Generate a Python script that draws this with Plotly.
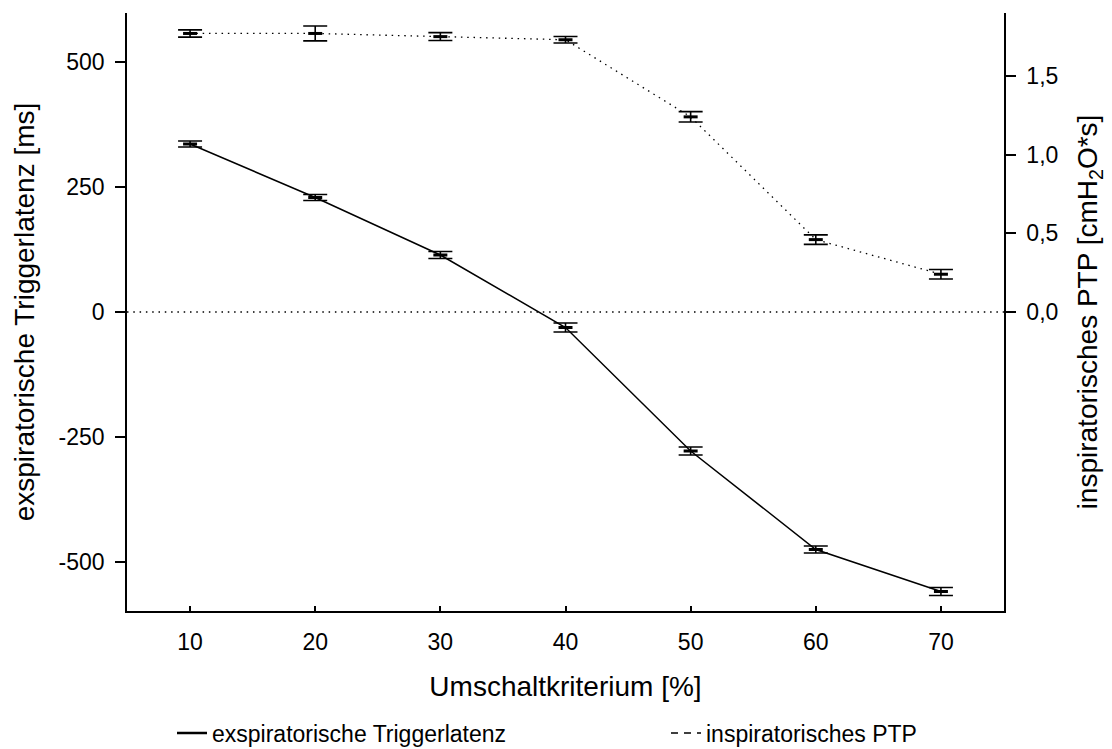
import plotly.graph_objects as go

# Switching criterion (%) on the x axis
umschaltkriterium = [10, 20, 30, 40, 50, 60, 70]

# Expiratory trigger latency (ms), mean and error
triggerlatenz = [336, 229, 114, -31, -278, -475, -559]
triggerlatenz_err = [6, 6, 7, 9, 8, 7, 8]

# Inspiratory pressure-time product (cmH2O*s), mean and error
ptp = [1.77, 1.77, 1.75, 1.73, 1.24, 0.46, 0.24]
ptp_err = [0.023, 0.047, 0.025, 0.021, 0.033, 0.03, 0.03]

left_ticks = [-500, -250, 0, 250, 500]
left_ticktext = ["-500", "-250", "0", "250", "500"]
right_ticks = [0.0, 0.5, 1.0, 1.5]
right_ticktext = ["0,0", "0,5", "1,0", "1,5"]
x_ticks = [10, 20, 30, 40, 50, 60, 70]

FONT = "Liberation Sans, Arial, sans-serif"
FS = 23
DOT = "1.5px,4.8px"

fig = go.Figure()

fig.add_trace(go.Scatter(
    x=umschaltkriterium, y=triggerlatenz,
    mode="lines+markers",
    line=dict(color="black", width=1.5),
    marker=dict(symbol="line-ew", size=10, color="black",
                line=dict(color="black", width=3)),
    error_y=dict(type="data", array=triggerlatenz_err, visible=True,
                 color="black", thickness=1.6, width=12),
    showlegend=False,
    yaxis="y",
))

fig.add_trace(go.Scatter(
    x=umschaltkriterium, y=ptp,
    mode="lines+markers",
    line=dict(color="black", width=1.3, dash=DOT),
    marker=dict(symbol="line-ew", size=10, color="black",
                line=dict(color="black", width=3)),
    error_y=dict(type="data", array=ptp_err, visible=True,
                 color="black", thickness=1.6, width=12),
    showlegend=False,
    yaxis="y2",
))

# Legend entries, one legend box each
fig.add_trace(go.Scatter(
    x=[None], y=[None], mode="lines",
    line=dict(color="black", width=2.5),
    name="exspiratorische Triggerlatenz",
    legend="legend",
))
fig.add_trace(go.Scatter(
    x=[None], y=[None], mode="lines",
    line=dict(color="black", width=1.5, dash="7px,6px"),
    name="inspiratorisches PTP",
    legend="legend2",
))

# Dotted zero reference line
fig.add_hline(y=0, line=dict(color="black", width=1.3, dash=DOT))

axis_common = dict(
    showline=True, linecolor="black", linewidth=1.5,
    showgrid=False, zeroline=False,
    tickcolor="black", tickwidth=1.5,
    tickfont=dict(size=FS),
)

legend_common = dict(
    orientation="h",
    xref="container", yref="container",
    xanchor="left",
    y=1 - 733 / 749, yanchor="middle",
    font=dict(size=FS),
    bgcolor="rgba(0,0,0,0)",
)

fig.update_layout(
    width=1112, height=749,
    margin=dict(l=127, r=108, t=13, b=138),
    paper_bgcolor="white", plot_bgcolor="white",
    font=dict(family=FONT, size=FS, color="black"),
    xaxis=dict(
        range=[4.96, 75.04],
        tickvals=x_ticks,
        ticks="inside", ticklen=5,
        ticklabelstandoff=10,
        title=dict(text="Umschaltkriterium [%]", standoff=22),
        **axis_common,
    ),
    yaxis=dict(
        range=[-598, 598],
        tickvals=left_ticks, ticktext=left_ticktext,
        ticks="outside", ticklen=10,
        ticklabelstandoff=6,
        title=dict(text="exspiratorische Triggerlatenz [ms]", standoff=16),
        **axis_common,
    ),
    yaxis2=dict(
        range=[-1.90, 1.90],
        overlaying="y", side="right",
        tickvals=right_ticks, ticktext=right_ticktext,
        ticks="outside", ticklen=10,
        ticklabelstandoff=6,
        title=dict(text="inspiratorisches PTP [cmH<sub>2</sub>O*s]", standoff=20),
        **axis_common,
    ),
    legend=dict(x=172 / 1112, **legend_common),
    legend2=dict(x=666 / 1112, **legend_common),
)

fig.write_html("out.html")
